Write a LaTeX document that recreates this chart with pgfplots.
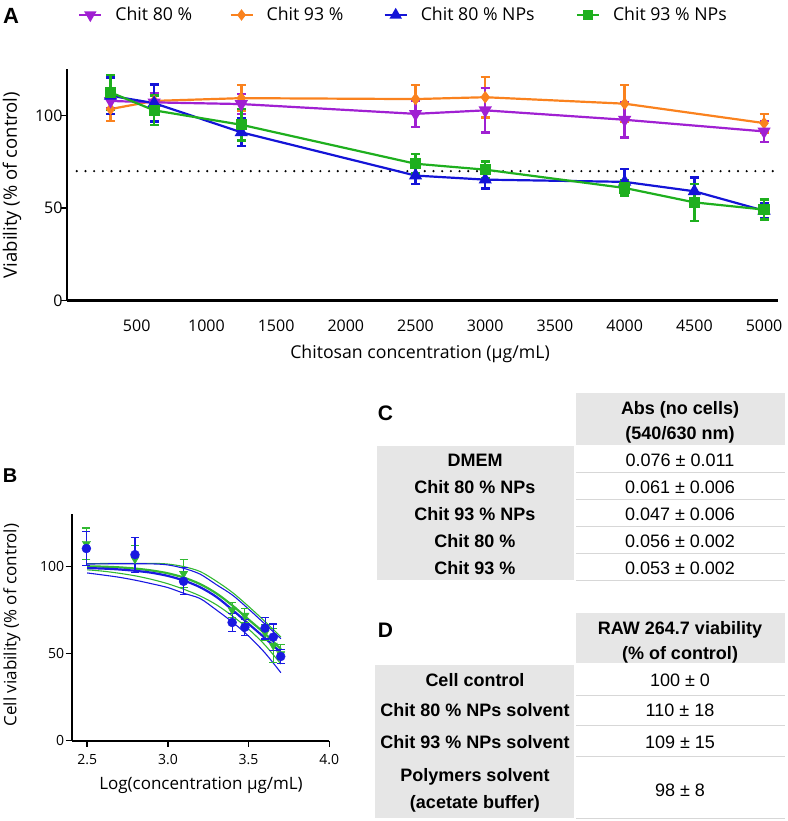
\documentclass[border=0pt]{standalone}
\usepackage{pgfplots}
\pgfplotsset{compat=1.18}
\usepackage{fontspec}
\setmainfont{Open Sans}
\newfontfamily\tabfont{Liberation Sans}
\definecolor{cpurple}{RGB}{160,32,210}
\definecolor{corange}{RGB}{250,130,30}
\definecolor{cblue}{RGB}{20,20,215}
\definecolor{cgreen}{RGB}{30,175,30}
\definecolor{cblueB}{RGB}{25,25,225}
\definecolor{cgreenB}{RGB}{50,185,50}
\definecolor{tabgray}{RGB}{230,230,230}
\definecolor{sepgray}{RGB}{215,215,215}

\pgfplotstableread{
x y e
312.5 108 4
625 107.2 5
1250 106.3 5.5
2500 101 7
3000 102.9 12
4000 97.8 9.5
5000 91.5 5.7
}\chiteighty
\pgfplotstableread{
x y e
312.5 103.6 6.5
625 108 4
1250 109.5 7
2500 109 7.7
3000 110 11
4000 106.5 10
5000 96 5
}\chitninety
\pgfplotstableread{
x y e
312.5 110.8 10
625 106.8 10
1250 91 7.5
2500 67.6 4.5
3000 65.4 4.7
4000 64.2 7
4500 59.1 7.5
5000 48.6 4
}\npeighty
\pgfplotstableread{
x y e
312.5 112.6 9.5
625 102.9 8
1250 95.1 8.5
2500 74 5.4
3000 70.8 4.5
4000 60.9 4
4500 53.1 10
5000 49.2 5.5
}\npninety
\pgfplotstableread{
x y e
2.495 110.2 9.6
2.796 106.7 10
3.097 91.4 7.7
3.398 67.8 5.3
3.477 65.1 4.6
3.602 64.6 6.3
3.653 59.4 7.5
3.699 48.3 4
}\logblue
\pgfplotstableread{
x y e
2.495 113 9
2.796 104.2 7.5
3.097 95.8 8
3.398 75 4.5
3.477 71.8 4
3.602 62 4.5
3.653 54.6 9.8
3.699 49.8 5.5
}\loggreen

\pgfplotsset{/pgf/number format/assume math mode=true}

\begin{document}
\begin{tikzpicture}
\path[use as bounding box] (0pt,0pt) rectangle (787pt,-821pt);

% ---------------- Panel A ----------------
\begin{axis}[
  at={(67pt,-300.5pt)}, anchor=south west,
  scale only axis, width=711pt, height=231pt,
  xmin=0, xmax=5100, ymin=0, ymax=125,
  axis lines=left, axis line style={-, line width=2.2pt},
  xtick={500,1000,...,5000}, ytick={0,50,100},
  xtick style={draw=none}, ytick style={line width=1.6pt, black},
  tick align=outside, major tick length=6pt,
  /pgf/number format/set thousands separator={},
  ticklabel style={font=\fontsize{16pt}{19pt}\selectfont},
  xticklabel style={anchor=center, yshift=-19pt},
  yticklabel style={xshift=5pt},
  xlabel={Chitosan concentration (µg/mL)},
  ylabel={Viability (\% of control)},
  xlabel style={font=\fontsize{17.7pt}{21pt}\selectfont, at={(axis description cs:0.4965,-0.2316)}, anchor=center},
  ylabel style={font=\fontsize{18.5pt}{21pt}\selectfont, at={(axis description cs:-0.0774,0.5)}, anchor=center},
  legend columns=4,
  legend style={at={(axis description cs:0.0155,1.236)}, anchor=west, draw=none, fill=none,
    inner sep=0pt, nodes={inner sep=0pt}, font=\fontsize{17.7pt}{20pt}\selectfont,
    /tikz/every odd column/.append style={column sep=13pt},
    /tikz/every even column/.append style={column sep=0pt}},
  legend image code/.code={\draw[mark repeat=2,mark phase=2,#1] plot coordinates {(0pt,0pt) (11pt,0pt) (22pt,0pt)};},
  clip=false,
]
\addplot[black, line width=2.4pt, line cap=round, dash pattern=on 0pt off 8.7pt, forget plot] coordinates {(70,70) (5090,70)};

\addplot[corange, line width=2.2pt, mark=diamond*, mark size=4.5pt, forget plot,
  error bars/.cd, y dir=both, y explicit, error bar style={line width=2.5pt},
  error mark options={rotate=90, mark size=4.5pt, line width=2.5pt, corange}]
  table[x=x, y=y, y error=e] {\chitninety};
\addplot[cpurple, line width=2.2pt, mark=triangle*, mark size=5.5pt, mark options={rotate=180}, forget plot,
  error bars/.cd, y dir=both, y explicit, error bar style={line width=2.5pt},
  error mark options={rotate=90, mark size=4.5pt, line width=2.5pt, cpurple}]
  table[x=x, y=y, y error=e] {\chiteighty};
\addplot[cblue, line width=2.2pt, mark=triangle*, mark size=5.5pt, forget plot,
  error bars/.cd, y dir=both, y explicit, error bar style={line width=2.5pt},
  error mark options={rotate=90, mark size=4.5pt, line width=2.5pt, cblue}]
  table[x=x, y=y, y error=e] {\npeighty};
\addplot[cgreen, line width=2.2pt, mark=square*, mark size=4.5pt, forget plot,
  error bars/.cd, y dir=both, y explicit, error bar style={line width=2.5pt},
  error mark options={rotate=90, mark size=4.5pt, line width=2.5pt, cgreen}]
  table[x=x, y=y, y error=e] {\npninety};

\addlegendimage{cpurple, line width=2.2pt, mark=triangle*, mark size=5pt, mark options={rotate=180}}
\addlegendentry{\makebox[114pt][l]{Chit 80 \%}}
\addlegendimage{corange, line width=2.2pt, mark=diamond*, mark size=4pt}
\addlegendentry{\makebox[117pt][l]{Chit 93 \%}}
\addlegendimage{cblue, line width=2.2pt, mark=triangle*, mark size=5pt}
\addlegendentry{\makebox[155pt][l]{Chit 80 \% NPs}}
\addlegendimage{cgreen, line width=2.2pt, mark=square*, mark size=4pt}
\addlegendentry{Chit 93 \% NPs}
\end{axis}

% ---------------- Panel B ----------------
\begin{axis}[
  at={(71.7pt,-740.7pt)}, anchor=south west,
  scale only axis, width=257.6pt, height=226.7pt,
  xmin=2.404, xmax=4.0, ymin=0, ymax=130,
  axis lines=left, axis line style={-, line width=1.6pt},
  xtick={2.5,3,3.5,4}, ytick={0,50,100},
  tick style={line width=1.4pt, black},
  tick align=outside, major tick length=6pt,
  ticklabel style={font=\fontsize{14pt}{17pt}\selectfont},
  xticklabel style={anchor=center, yshift=-13.3pt, /pgf/number format/.cd, fixed, fixed zerofill, precision=1},
  yticklabel style={xshift=2pt},
  label style={font=\fontsize{17pt}{20pt}\selectfont},
  xlabel={Log(concentration µg/mL)},
  ylabel={Cell viability (\% of control)},
  xlabel style={at={(axis description cs:0.502,-0.195)}, anchor=center},
  ylabel style={at={(axis description cs:-0.2318,0.51)}, anchor=center},
  clip=false,
]
% confidence bands and fits
\addplot[cgreenB, line width=1.1pt, smooth] coordinates {(2.5,101.5)(2.7,101.7)(2.9,101.7)(3.0,101.3)(3.1,99.8)(3.2,97)(3.3,91.5)(3.4,85)(3.5,77)(3.6,68.5)(3.7,59.5)};
\addplot[cgreenB, line width=1.1pt, smooth] coordinates {(2.5,98)(2.6,97.2)(2.7,96)(2.8,94.5)(2.9,92.5)(3.0,90)(3.1,86.8)(3.2,83)(3.3,78)(3.4,71.5)(3.5,64)(3.6,55)(3.7,44)};
\addplot[cblueB, line width=1.1pt, smooth] coordinates {(2.5,101.3)(2.7,101.5)(2.9,101.4)(3.0,100.8)(3.1,98.8)(3.2,95.5)(3.3,89.5)(3.4,83.5)(3.5,75.5)(3.6,67)(3.7,58.5)};
\addplot[cblueB, line width=1.1pt, smooth] coordinates {(2.5,96.2)(2.6,95)(2.7,93.7)(2.8,92)(2.9,90)(3.0,87.8)(3.1,84.5)(3.2,81.5)(3.3,75)(3.4,68)(3.5,60)(3.6,50.5)(3.7,39)};
\addplot[cgreenB, line width=2.2pt, smooth] coordinates {(2.5,100)(2.6,99.8)(2.7,99.4)(2.8,98.7)(2.9,97.6)(3.0,96)(3.1,93.5)(3.2,89.8)(3.3,84.5)(3.4,77.5)(3.5,69.5)(3.6,61.5)(3.7,52.5)};
\addplot[cblueB, line width=2.2pt, smooth] coordinates {(2.5,99)(2.6,98.7)(2.7,98.2)(2.8,97.4)(2.9,96.3)(3.0,94.5)(3.1,91.8)(3.2,88)(3.3,82.5)(3.4,75)(3.5,67)(3.6,59)(3.7,50.5)};
% data points
\addplot[cgreenB, only marks, mark=triangle*, mark size=4.8pt, mark options={rotate=180},
  error bars/.cd, y dir=both, y explicit, error bar style={line width=1.1pt},
  error mark options={rotate=90, mark size=4pt, line width=1.1pt, cgreenB}]
  table[x=x, y=y, y error=e] {\loggreen};
\addplot[cblueB, only marks, mark=*, mark size=4.5pt,
  error bars/.cd, y dir=both, y explicit, error bar style={line width=1.1pt},
  error mark options={rotate=90, mark size=4pt, line width=1.1pt, cblueB}]
  table[x=x, y=y, y error=e] {\logblue};
\end{axis}

% ---------------- Panel letters ----------------
\node[font=\tabfont\bfseries\fontsize{22pt}{24pt}\selectfont, anchor=base, inner sep=0pt] at (11pt,-24pt) {A};
\node[font=\tabfont\bfseries\fontsize{20pt}{24pt}\selectfont, anchor=base, inner sep=0pt] at (10pt,-482pt) {B};
\node[font=\tabfont\bfseries\fontsize{21pt}{24pt}\selectfont, anchor=base, inner sep=0pt] at (385.5pt,-420pt) {C};
\node[font=\tabfont\bfseries\fontsize{21pt}{24pt}\selectfont, anchor=base, inner sep=0pt] at (385.5pt,-637.5pt) {D};

% ---------------- Table C ----------------
\fill[tabgray] (575.7pt,-393pt) rectangle (785pt,-445pt);
\fill[tabgray] (376.7pt,-446pt) rectangle (574pt,-580pt);
\foreach \yy in {472.7,499.3,526.7,553.3,580} {\draw[sepgray, line width=1pt] (576pt,-\yy pt) -- (785pt,-\yy pt);}
\begin{scope}[every node/.style={anchor=base, inner sep=0pt, font=\tabfont\fontsize{18pt}{21pt}\selectfont}]
\node[font=\tabfont\bfseries\fontsize{18pt}{21pt}\selectfont] at (680pt,-414.4pt) {Abs (no cells)};
\node[font=\tabfont\bfseries\fontsize{18pt}{21pt}\selectfont] at (680pt,-439.4pt) {(540/630 nm)};
\node[font=\tabfont\bfseries\fontsize{18pt}{21pt}\selectfont] at (475pt,-466.4pt) {DMEM};
\node[font=\tabfont\bfseries\fontsize{18pt}{21pt}\selectfont] at (475pt,-493.7pt) {Chit 80 \% NPs};
\node[font=\tabfont\bfseries\fontsize{18pt}{21pt}\selectfont] at (475pt,-520.7pt) {Chit 93 \% NPs};
\node[font=\tabfont\bfseries\fontsize{18pt}{21pt}\selectfont] at (475pt,-547.4pt) {Chit 80 \%};
\node[font=\tabfont\bfseries\fontsize{18pt}{21pt}\selectfont] at (475pt,-574.1pt) {Chit 93 \%};
\node at (680pt,-466.4pt) {0.076 ± 0.011};
\node at (680pt,-493.7pt) {0.061 ± 0.006};
\node at (680pt,-520.7pt) {0.047 ± 0.006};
\node at (680pt,-547.4pt) {0.056 ± 0.002};
\node at (680pt,-574.1pt) {0.053 ± 0.002};
\end{scope}

% ---------------- Table D ----------------
\fill[tabgray] (575.7pt,-613.3pt) rectangle (785pt,-663.3pt);
\fill[tabgray] (375pt,-665pt) rectangle (574pt,-818pt);
\foreach \yy in {695,725,756.7,818} {\draw[sepgray, line width=1pt] (576pt,-\yy pt) -- (785pt,-\yy pt);}
\begin{scope}[every node/.style={anchor=base, inner sep=0pt, font=\tabfont\fontsize{18pt}{21pt}\selectfont}]
\node[font=\tabfont\bfseries\fontsize{18pt}{21pt}\selectfont] at (680pt,-634.4pt) {RAW 264.7 viability};
\node[font=\tabfont\bfseries\fontsize{18pt}{21pt}\selectfont] at (680pt,-659.4pt) {(\% of control)};
\node[font=\tabfont\bfseries\fontsize{18pt}{21pt}\selectfont] at (475pt,-686.4pt) {Cell control};
\node[font=\tabfont\bfseries\fontsize{18pt}{21pt}\selectfont] at (475pt,-716.4pt) {Chit 80 \% NPs solvent};
\node[font=\tabfont\bfseries\fontsize{18pt}{21pt}\selectfont] at (475pt,-748.1pt) {Chit 93 \% NPs solvent};
\node[font=\tabfont\bfseries\fontsize{18pt}{21pt}\selectfont] at (475pt,-781.4pt) {Polymers solvent};
\node[font=\tabfont\bfseries\fontsize{18pt}{21pt}\selectfont] at (475pt,-808.1pt) {(acetate buffer)};
\node at (680pt,-686.4pt) {100 ± 0};
\node at (680pt,-716.4pt) {110 ± 18};
\node at (680pt,-748.1pt) {109 ± 15};
\node at (680pt,-796.4pt) {98 ± 8};
\end{scope}
\end{tikzpicture}
\end{document}
